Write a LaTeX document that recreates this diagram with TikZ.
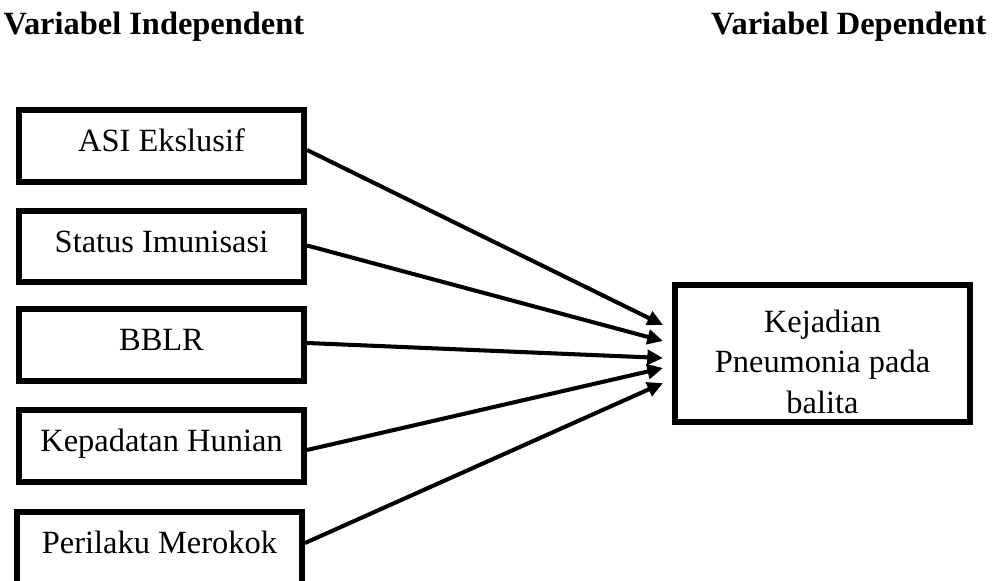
\documentclass[tikz,border=0pt]{standalone}
\usepackage{fontspec}
\setmainfont{Liberation Serif}
\usepackage{tikz}
\usetikzlibrary{arrows.meta,positioning,calc}

\begin{document}
\begin{tikzpicture}[
  x=0.37pt, y=-0.37pt,
  >={Triangle[length=5.8pt,width=5.4pt]},
  font=\fontsize{12}{15}\selectfont,
  indep/.style={draw,line width=2.2pt,minimum width=105.5pt,minimum height=26.6pt,inner sep=0pt,
                text height=8pt,text depth=3.6pt},
  dep/.style  ={draw,line width=2.2pt,minimum width=109.2pt,minimum height=50.7pt,align=center,inner sep=0pt},
  link/.style ={->,line width=1.5pt},
]
\useasboundingbox (0,0) rectangle (1001,581);
% --- headings ---
\node[anchor=base west,inner sep=0pt,font=\fontsize{12}{15}\selectfont\bfseries] (hind) at (3,35) {Variabel Independent};
\node[anchor=base east,inner sep=0pt,font=\fontsize{12}{15}\selectfont\bfseries] (hdep) at (987,35) {Variabel Dependent};

% --- independent variables ---
\node[indep] (asi)  at (161.5,146)   {ASI Ekslusif};
\node[indep] (imun) at (161.5,246.5) {Status Imunisasi};
\node[indep] (bblr) at (161.5,345)   {BBLR};
\node[indep] (hun)  at (161.5,446)   {Kepadatan Hunian};
\node[indep] (rok)  at (159.5,548)   {Perilaku Merokok};

% --- dependent variable ---
\node[dep] (pneu) at (822.5,353.5) {\rule{0pt}{14.5pt}Kejadian\\Pneumonia pada\\balita};

% arrow tips just left of the dependent box
\coordinate (t1) at (663,325);
\coordinate (t2) at (663,341);
\coordinate (t3) at (663,358);
\coordinate (t4) at (663,368);
\coordinate (t5) at (663,383);

\draw[link] ($(asi.east)+(0,4)$)   -- (t1);
\draw[link] ($(imun.east)+(0,-1)$) -- (t2);
\draw[link] ($(bblr.east)+(0,-2)$) -- (t3);
\draw[link] ($(hun.east)+(0,4)$)   -- (t4);
\draw[link] ($(rok.east)+(0,-5)$)  -- (t5);
\end{tikzpicture}
\end{document}
